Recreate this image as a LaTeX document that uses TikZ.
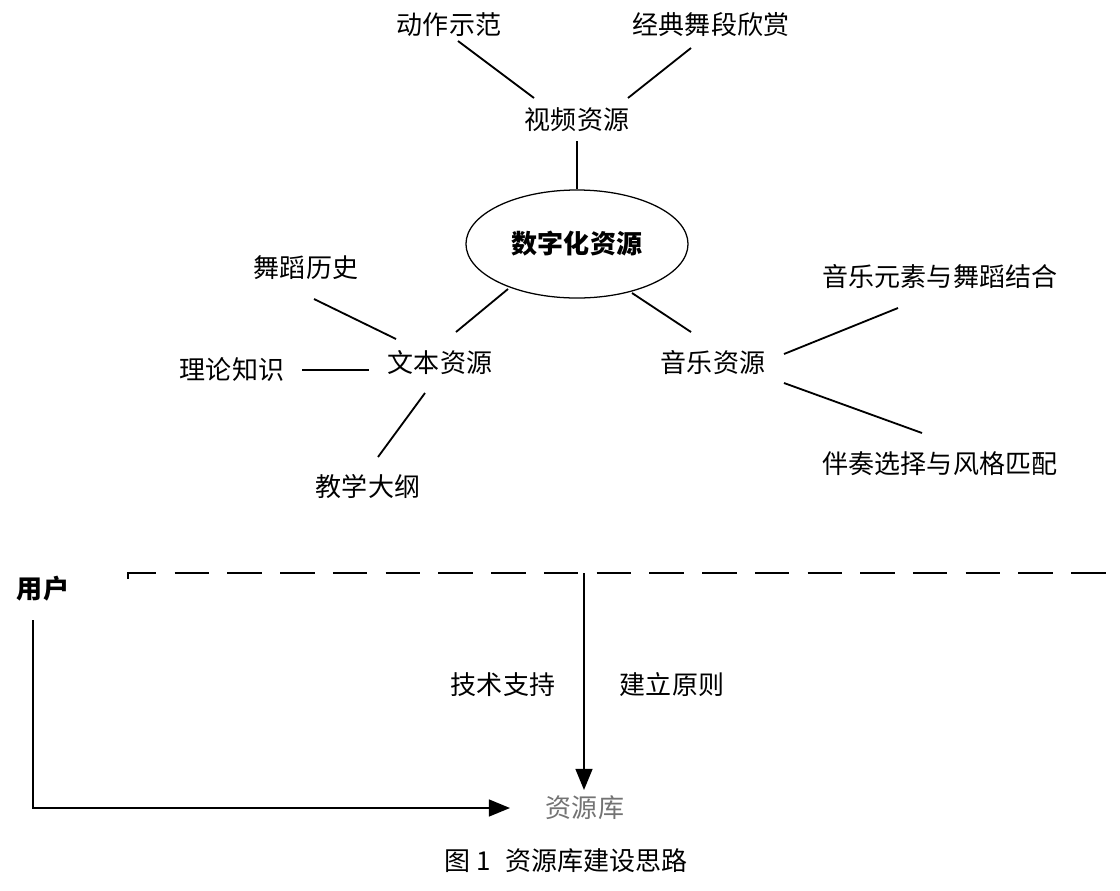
\documentclass[tikz,border=0pt]{standalone}
\usepackage{fontspec}
\setmainfont{Noto Sans CJK SC}
\usepackage{tikz}
\usetikzlibrary{calc}
\usetikzlibrary{shapes.geometric}
\usetikzlibrary{arrows.meta}

\begin{document}
\begin{tikzpicture}[x=0.025cm, y=-0.025cm,
    every node/.style={inner sep=0pt, font=\fontsize{18.5pt}{22pt}\selectfont},
    lnk/.style={line width=1.3pt},
    arr/.style={line width=1.3pt, -{Triangle[length=15pt, width=12pt]}},
    dashline/.style={line width=1.8pt, dash pattern=on 24.5pt off 13pt}]
    \useasboundingbox (0,0) rectangle (1120,890);
    % nodes
    \node[draw, ellipse, line width=0.9pt, minimum width=5.55cm, minimum height=2.7cm, font=\fontsize{18.5pt}{22pt}\selectfont\bfseries] (szh) at (577,244) {数字化资源};
    \node (spzy) at (577,120) {视频资源};
    \node (dzsf) at (449,25) {动作示范};
    \node (jdwd) at (711,25) {经典舞段欣赏};
    \node (wbzy) at (440,363) {文本资源};
    \node (wdls) at (306,268) {舞蹈历史};
    \node (llzs) at (232,370) {理论知识};
    \node (jxdg) at (368,487) {教学大纲};
    \node (ylzy) at (713,363) {音乐资源};
    \node (ylys) at (940,277) {音乐元素与舞蹈结合};
    \node (bzxz) at (940,464) {伴奏选择与风格匹配};
    \node[font=\fontsize{18.5pt}{22pt}\selectfont\bfseries] (yh) at (43,589) {用户};
    \node (jszc) at (503,685) {技术支持};
    \node (jlyz) at (672,685) {建立原则};
    \node[text=black!55] (zyk) at (585,808) {资源库};
    \node (title) at (566,861) {图 1\hspace{0.55em}资源库建设思路};
    % links
    \draw[lnk] ($(dzsf)+(9,16)$) -- ($(spzy)+(-43,-22)$);
    \draw[lnk] ($(jdwd)+(-20,23)$) -- ($(spzy)+(51,-22)$);
    \draw[lnk] ($(spzy)+(0,21)$) -- (szh.north);
    \draw[lnk] ($(szh)+(-69,45)$) -- ($(wbzy)+(16,-31)$);
    \draw[lnk] ($(wdls)+(8,31)$) -- ($(wbzy)+(-44,-24)$);
    \draw[lnk] ($(llzs)+(70,0)$) -- ($(wbzy)+(-71,7)$);
    \draw[lnk] ($(wbzy)+(-15,30)$) -- ($(jxdg)+(10,-30)$);
    \draw[lnk] ($(szh)+(55,49)$) -- ($(ylzy)+(-22,-31)$);
    \draw[lnk] ($(ylzy)+(71,-9)$) -- ($(ylys)+(-42,31)$);
    \draw[lnk] ($(ylzy)+(71,20)$) -- ($(bzxz)+(-18,-31)$);
    % lower part
    \coordinate (dl) at (128,579);
    \coordinate (dr) at (1110,573);
    \coordinate (fz) at (584,573);
    \draw[dashline] (dl) -- (dl |- dr) -- (dr);
    \draw[arr] (fz) -- ($(zyk)+(-1,-18)$);
    \draw[arr] ($(yh)+(-10,31)$) |- ($(zyk)+(-75,0)$);
\end{tikzpicture}
\end{document}
